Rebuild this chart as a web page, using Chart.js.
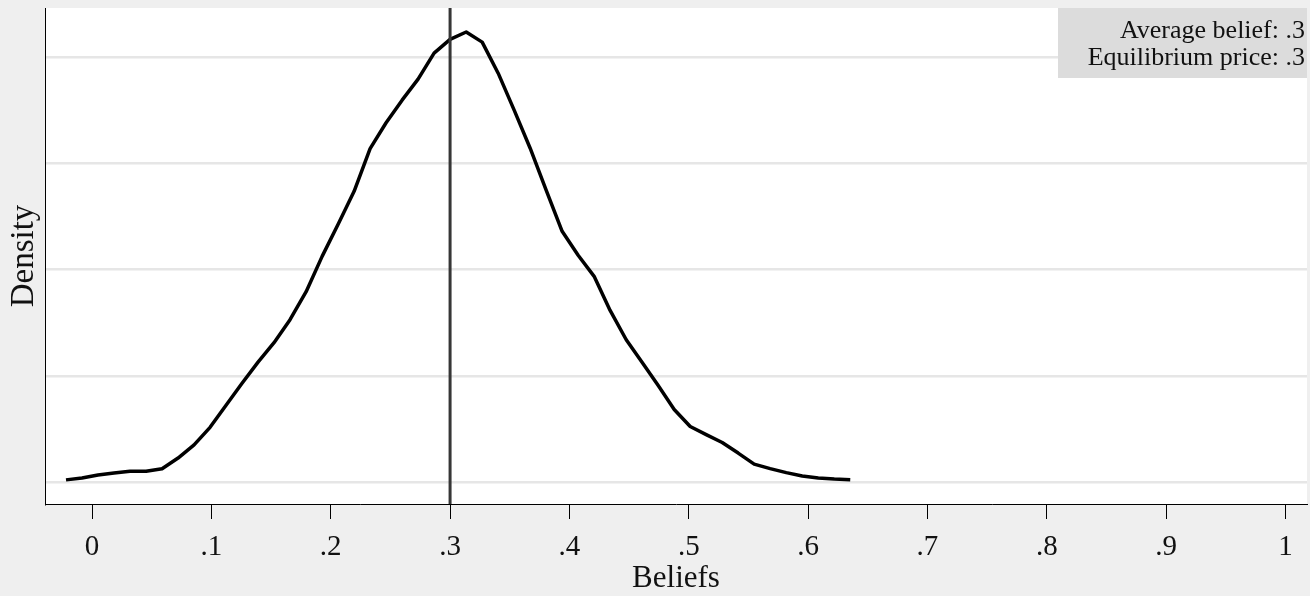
<!DOCTYPE html>
<html>
<head>
<meta charset="utf-8">
<script src="https://cdn.jsdelivr.net/npm/chart.js@4.4.1/dist/chart.umd.min.js"></script>
<style>
html, body { margin: 0; padding: 0; background: #efefef; }
canvas { display: block; }
</style>
</head>
<body>
<canvas id="beliefsChart" width="1310" height="596"></canvas>
<script>
// kernel density of beliefs, 50 evaluation points
const beliefGrid = [
    -0.0218, -0.0084, 0.0050, 0.0184, 0.0318, 0.0453, 0.0587, 0.0721, 0.0855, 0.0989,
    0.1123, 0.1257, 0.1391, 0.1525, 0.1659, 0.1794, 0.1928, 0.2062, 0.2196, 0.2330,
    0.2464, 0.2598, 0.2732, 0.2866, 0.3000, 0.3135, 0.3269, 0.3403, 0.3537, 0.3671,
    0.3805, 0.3939, 0.4073, 0.4207, 0.4341, 0.4476, 0.4610, 0.4744, 0.4878, 0.5012,
    0.5146, 0.5280, 0.5414, 0.5548, 0.5682, 0.5817, 0.5951, 0.6085, 0.6219, 0.6353
];
const densityValues = [
    0.022, 0.040, 0.067, 0.086, 0.102, 0.103, 0.126, 0.227, 0.351, 0.516,
    0.724, 0.931, 1.129, 1.312, 1.528, 1.792, 2.124, 2.426, 2.736, 3.138,
    3.381, 3.593, 3.791, 4.036, 4.165, 4.234, 4.139, 3.847, 3.499, 3.141,
    2.746, 2.360, 2.134, 1.936, 1.616, 1.340, 1.126, 0.910, 0.684, 0.524,
    0.448, 0.373, 0.274, 0.170, 0.128, 0.090, 0.059, 0.040, 0.029, 0.022
];
const averageBelief = 0.3;
const xTickValues = [0, 0.1, 0.2, 0.3, 0.4, 0.5, 0.6, 0.7, 0.8, 0.9, 1];
const xTickLabels = ['0', '.1', '.2', '.3', '.4', '.5', '.6', '.7', '.8', '.9', '1'];
const yGridValues = [0, 1, 2, 3, 4];
const noteLines = ['Average belief: .3', 'Equilibrium price: .3'];
const xRange = [-0.0394, 1.018];
const yRange = [-0.205, 4.46];

const serif = "'Liberation Serif', 'DejaVu Serif', serif";

const plotBackground = {
    id: 'plotBackground',
    beforeDraw(chart) {
        const { ctx, chartArea: a } = chart;
        ctx.save();
        ctx.fillStyle = '#efefef';
        ctx.fillRect(0, 0, chart.width, chart.height);
        ctx.fillStyle = '#ffffff';
        ctx.fillRect(a.left, a.top, a.right - a.left, a.bottom - a.top);
        ctx.restore();
    }
};

const noteBox = {
    id: 'noteBox',
    afterDraw(chart) {
        const { ctx, chartArea: a } = chart;
        ctx.save();
        ctx.fillStyle = '#dcdcdc';
        ctx.fillRect(a.right - 249, a.top, 249, 70);
        ctx.fillStyle = '#111111';
        ctx.font = '26px ' + serif;
        ctx.textAlign = 'right';
        ctx.textBaseline = 'alphabetic';
        noteLines.forEach((line, i) => {
            ctx.fillText(line, a.right - 2, a.top + 30 + i * 27);
        });
        ctx.restore();
    }
};

Chart.defaults.font.family = serif;
Chart.defaults.color = '#111111';

new Chart(document.getElementById('beliefsChart'), {
    type: 'line',
    data: {
        datasets: [
            {
                data: [{ x: averageBelief, y: yRange[0] }, { x: averageBelief, y: yRange[1] }],
                borderColor: '#363636',
                borderWidth: 3,
                pointRadius: 0,
                order: 0
            },
            {
                data: beliefGrid.map((x, i) => ({ x: x, y: densityValues[i] })),
                borderColor: '#000000',
                borderWidth: 3.5,
                borderJoinStyle: 'round',
                pointRadius: 0,
                tension: 0,
                order: 1
            }
        ]
    },
    options: {
        responsive: false,
        animation: false,
        devicePixelRatio: 1,
        layout: { padding: { left: 0, top: 8, right: 3, bottom: 0 } },
        plugins: { legend: { display: false }, tooltip: { enabled: false } },
        scales: {
            x: {
                type: 'linear',
                min: xRange[0],
                max: xRange[1],
                afterBuildTicks: (scale) => { scale.ticks = xTickValues.map(v => ({ value: v })); },
                afterFit: (scale) => { scale.height = 92; },
                grid: { drawOnChartArea: false, drawTicks: true, tickLength: 15, color: '#000000', lineWidth: 1 },
                border: { display: true, color: '#000000', width: 1 },
                ticks: {
                    autoSkip: false,
                    maxRotation: 0,
                    padding: 11,
                    font: { size: 29 },
                    callback: (v, i) => xTickLabels[i]
                },
                title: {
                    display: true,
                    text: 'Beliefs',
                    font: { size: 31, lineHeight: 1 },
                    padding: { top: 0, bottom: 2 }
                }
            },
            y: {
                min: yRange[0],
                max: yRange[1],
                afterBuildTicks: (scale) => { scale.ticks = yGridValues.map(v => ({ value: v })); },
                afterFit: (scale) => { scale.width = 45; },
                grid: { color: '#e6e6e6', lineWidth: 2.5, drawTicks: false, tickLength: 0 },
                border: { display: true, color: '#000000', width: 1 },
                ticks: { display: false },
                title: {
                    display: true,
                    text: 'Density',
                    font: { size: 33, lineHeight: 1 },
                    padding: { top: 7.5, bottom: 0 }
                }
            }
        }
    },
    plugins: [plotBackground, noteBox]
});
</script>
</body>
</html>
